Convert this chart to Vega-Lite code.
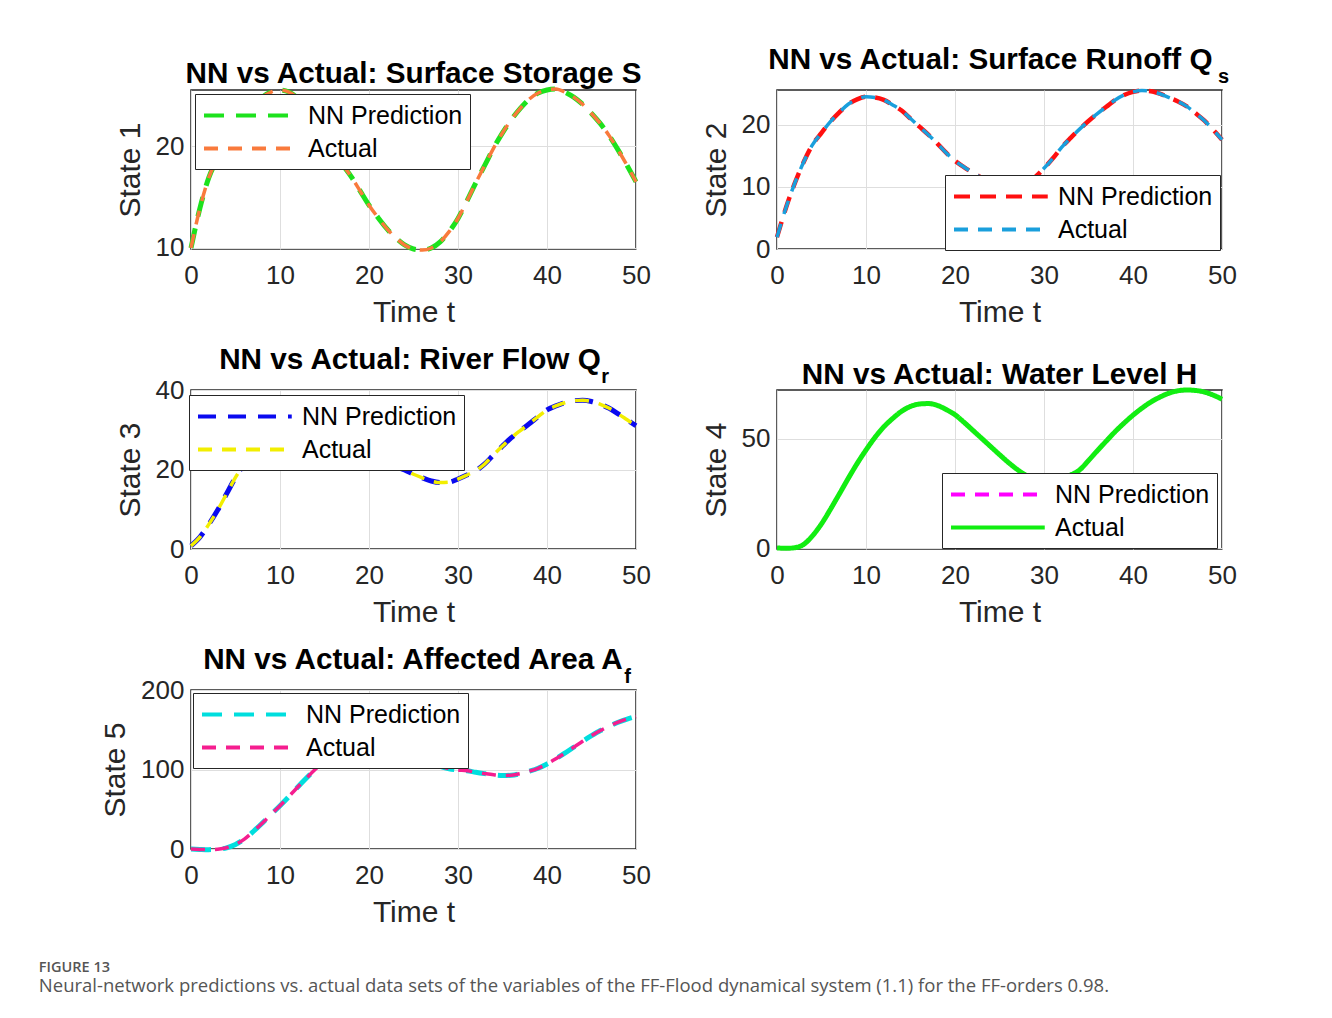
{
  "$schema": "https://vega.github.io/schema/vega-lite/v6.json",
  "padding": {"left": 38, "top": 44, "right": 10, "bottom": 10},
  "background": "white",
  "datasets": {
    "p1": [
      {"t":0,"nn":10.0,"act":10.0},{"t":1,"nn":13.9,"act":13.9},{"t":2,"nn":16.9,"act":16.9},{"t":3,"nn":18.8,"act":18.8},{"t":4,"nn":20.4,"act":20.4},{"t":5,"nn":21.8,"act":21.8},{"t":6,"nn":23.0,"act":23.0},{"t":7,"nn":24.0,"act":24.0},{"t":8,"nn":24.8,"act":24.8},{"t":9,"nn":25.3,"act":25.3},{"t":10,"nn":25.5,"act":25.5},
      {"t":11,"nn":25.3,"act":25.3},{"t":12,"nn":24.7,"act":24.7},{"t":13,"nn":23.7,"act":23.7},{"t":14,"nn":22.4,"act":22.4},{"t":15,"nn":21.0,"act":21.0},{"t":16,"nn":19.5,"act":19.5},{"t":17,"nn":18.2,"act":18.2},{"t":18,"nn":17.0,"act":17.0},{"t":19,"nn":15.6,"act":15.6},{"t":20,"nn":14.2,"act":14.2},
      {"t":21,"nn":13.0,"act":13.0},{"t":22,"nn":11.9,"act":11.9},{"t":23,"nn":11.0,"act":11.0},{"t":24,"nn":10.3,"act":10.3},{"t":25,"nn":9.9,"act":9.9},{"t":26,"nn":9.8,"act":9.8},{"t":27,"nn":10.0,"act":10.0},{"t":28,"nn":10.6,"act":10.6},{"t":29,"nn":11.6,"act":11.6},{"t":30,"nn":12.9,"act":12.9},
      {"t":31,"nn":14.6,"act":14.6},{"t":32,"nn":16.4,"act":16.4},{"t":33,"nn":18.1,"act":18.1},{"t":34,"nn":19.8,"act":19.8},{"t":35,"nn":21.3,"act":21.3},{"t":36,"nn":22.6,"act":22.6},{"t":37,"nn":23.7,"act":23.7},{"t":38,"nn":24.6,"act":24.6},{"t":39,"nn":25.2,"act":25.2},{"t":40,"nn":25.5,"act":25.5},
      {"t":41,"nn":25.6,"act":25.6},{"t":42,"nn":25.3,"act":25.3},{"t":43,"nn":24.8,"act":24.8},{"t":44,"nn":24.1,"act":24.1},{"t":45,"nn":23.2,"act":23.2},{"t":46,"nn":22.2,"act":22.2},{"t":47,"nn":21.0,"act":21.0},{"t":48,"nn":19.6,"act":19.6},{"t":49,"nn":18.1,"act":18.1},{"t":50,"nn":16.5,"act":16.5}
    ],
    "p2": [
      {"t":0,"nn":1.9,"act":1.9},{"t":1,"nn":6.6,"act":6.6},{"t":2,"nn":10.6,"act":10.6},{"t":3,"nn":14.0,"act":14.0},{"t":4,"nn":16.8,"act":16.8},{"t":5,"nn":18.7,"act":18.7},{"t":6,"nn":20.5,"act":20.5},{"t":7,"nn":22.0,"act":22.0},{"t":8,"nn":23.3,"act":23.3},{"t":9,"nn":24.1,"act":24.1},{"t":10,"nn":24.5,"act":24.5},
      {"t":11,"nn":24.4,"act":24.4},{"t":12,"nn":24.0,"act":24.0},{"t":13,"nn":23.2,"act":23.2},{"t":14,"nn":22.3,"act":22.3},{"t":15,"nn":21.0,"act":21.0},{"t":16,"nn":19.7,"act":19.7},{"t":17,"nn":18.4,"act":18.4},{"t":18,"nn":17.0,"act":17.0},{"t":19,"nn":15.5,"act":15.5},{"t":20,"nn":14.2,"act":14.2},
      {"t":21,"nn":13.2,"act":13.2},{"t":22,"nn":12.3,"act":12.3},{"t":23,"nn":11.5,"act":11.5},{"t":24,"nn":10.9,"act":10.9},{"t":25,"nn":10.5,"act":10.5},{"t":26,"nn":10.3,"act":10.3},{"t":27,"nn":10.4,"act":10.4},{"t":28,"nn":10.9,"act":10.9},{"t":29,"nn":11.6,"act":11.6},{"t":30,"nn":13.0,"act":13.0},
      {"t":31,"nn":14.6,"act":14.6},{"t":32,"nn":16.4,"act":16.4},{"t":33,"nn":17.9,"act":17.9},{"t":34,"nn":19.3,"act":19.3},{"t":35,"nn":20.6,"act":20.6},{"t":36,"nn":21.8,"act":21.8},{"t":37,"nn":22.9,"act":22.9},{"t":38,"nn":24.0,"act":24.0},{"t":39,"nn":24.8,"act":24.8},{"t":40,"nn":25.3,"act":25.3},
      {"t":41,"nn":25.5,"act":25.5},{"t":42,"nn":25.4,"act":25.4},{"t":43,"nn":25.0,"act":25.0},{"t":44,"nn":24.4,"act":24.4},{"t":45,"nn":23.8,"act":23.8},{"t":46,"nn":23.0,"act":23.0},{"t":47,"nn":21.9,"act":21.9},{"t":48,"nn":20.7,"act":20.7},{"t":49,"nn":19.2,"act":19.2},{"t":50,"nn":17.6,"act":17.6}
    ],
    "p3": [
      {"t":0,"nn":0.8,"act":0.8},{"t":1,"nn":3.0,"act":3.0},{"t":2,"nn":6.2,"act":6.2},{"t":3,"nn":9.8,"act":9.8},{"t":4,"nn":13.9,"act":13.9},{"t":5,"nn":18.0,"act":18.0},{"t":6,"nn":21.5,"act":21.5},{"t":7,"nn":24.5,"act":24.5},{"t":8,"nn":26.8,"act":26.8},{"t":9,"nn":28.5,"act":28.5},{"t":10,"nn":29.6,"act":29.6},
      {"t":11,"nn":30.2,"act":30.2},{"t":12,"nn":30.3,"act":30.3},{"t":13,"nn":30.0,"act":30.0},{"t":14,"nn":29.3,"act":29.3},{"t":15,"nn":28.4,"act":28.4},{"t":16,"nn":27.3,"act":27.3},{"t":17,"nn":26.1,"act":26.1},{"t":18,"nn":25.0,"act":25.0},{"t":19,"nn":23.9,"act":23.9},{"t":20,"nn":22.9,"act":22.9},
      {"t":21,"nn":22.0,"act":22.0},{"t":22,"nn":21.2,"act":21.2},{"t":23,"nn":20.6,"act":20.6},{"t":24,"nn":19.9,"act":19.9},{"t":25,"nn":18.8,"act":18.8},{"t":26,"nn":17.9,"act":17.9},{"t":27,"nn":17.1,"act":17.1},{"t":28,"nn":16.7,"act":16.7},{"t":29,"nn":16.8,"act":16.8},{"t":30,"nn":17.6,"act":17.6},
      {"t":31,"nn":18.6,"act":18.6},{"t":32,"nn":19.7,"act":19.7},{"t":33,"nn":21.4,"act":21.4},{"t":34,"nn":23.7,"act":23.7},{"t":35,"nn":25.9,"act":25.9},{"t":36,"nn":28.0,"act":28.0},{"t":37,"nn":29.8,"act":29.8},{"t":38,"nn":31.5,"act":31.5},{"t":39,"nn":33.3,"act":33.3},{"t":40,"nn":35.0,"act":35.0},
      {"t":41,"nn":36.0,"act":36.0},{"t":42,"nn":36.8,"act":36.8},{"t":43,"nn":37.3,"act":37.3},{"t":44,"nn":37.4,"act":37.4},{"t":45,"nn":37.1,"act":37.1},{"t":46,"nn":36.4,"act":36.4},{"t":47,"nn":35.4,"act":35.4},{"t":48,"nn":34.0,"act":34.0},{"t":49,"nn":32.5,"act":32.5},{"t":50,"nn":31.0,"act":31.0}
    ],
    "p4": [
      {"t":0,"nn":0.2,"act":0.2},{"t":1,"nn":0.0,"act":0.0},{"t":2,"nn":0.3,"act":0.3},{"t":3,"nn":1.8,"act":1.8},{"t":4,"nn":5.8,"act":5.8},{"t":5,"nn":11.2,"act":11.2},{"t":6,"nn":17.8,"act":17.8},{"t":7,"nn":24.8,"act":24.8},{"t":8,"nn":31.9,"act":31.9},{"t":9,"nn":38.7,"act":38.7},{"t":10,"nn":44.9,"act":44.9},
      {"t":11,"nn":50.6,"act":50.6},{"t":12,"nn":55.5,"act":55.5},{"t":13,"nn":59.3,"act":59.3},{"t":14,"nn":62.6,"act":62.6},{"t":15,"nn":64.8,"act":64.8},{"t":16,"nn":65.9,"act":65.9},{"t":17,"nn":66.1,"act":66.1},{"t":18,"nn":65.3,"act":65.3},{"t":19,"nn":63.4,"act":63.4},{"t":20,"nn":61.0,"act":61.0},
      {"t":21,"nn":57.6,"act":57.6},{"t":22,"nn":53.9,"act":53.9},{"t":23,"nn":50.2,"act":50.2},{"t":24,"nn":46.5,"act":46.5},{"t":25,"nn":42.8,"act":42.8},{"t":26,"nn":39.2,"act":39.2},{"t":27,"nn":36.0,"act":36.0},{"t":28,"nn":33.3,"act":33.3},{"t":29,"nn":31.5,"act":31.5},{"t":30,"nn":30.7,"act":30.7},
      {"t":31,"nn":30.8,"act":30.8},{"t":32,"nn":31.8,"act":31.8},{"t":33,"nn":33.5,"act":33.5},{"t":34,"nn":35.8,"act":35.8},{"t":35,"nn":40.1,"act":40.1},{"t":36,"nn":44.6,"act":44.6},{"t":37,"nn":49.0,"act":49.0},{"t":38,"nn":53.3,"act":53.3},{"t":39,"nn":57.2,"act":57.2},{"t":40,"nn":60.8,"act":60.8},
      {"t":41,"nn":64.0,"act":64.0},{"t":42,"nn":66.8,"act":66.8},{"t":43,"nn":69.0,"act":69.0},{"t":44,"nn":70.8,"act":70.8},{"t":45,"nn":71.9,"act":71.9},{"t":46,"nn":72.3,"act":72.3},{"t":47,"nn":72.1,"act":72.1},{"t":48,"nn":71.4,"act":71.4},{"t":49,"nn":70.0,"act":70.0},{"t":50,"nn":68.1,"act":68.1}
    ],
    "p5": [
      {"t":0,"nn":0.0,"act":0.0},{"t":1,"nn":-0.5,"act":-0.5},{"t":2,"nn":-0.8,"act":-0.8},{"t":3,"nn":-0.3,"act":-0.3},{"t":4,"nn":1.5,"act":1.5},{"t":5,"nn":5.8,"act":5.8},{"t":6,"nn":12.5,"act":12.5},{"t":7,"nn":22.0,"act":22.0},{"t":8,"nn":32.5,"act":32.5},{"t":9,"nn":43.5,"act":43.5},{"t":10,"nn":54.5,"act":54.5},
      {"t":11,"nn":66.0,"act":66.0},{"t":12,"nn":78.0,"act":78.0},{"t":13,"nn":89.5,"act":89.5},{"t":14,"nn":100.5,"act":100.5},{"t":15,"nn":111.0,"act":111.0},{"t":16,"nn":120.0,"act":120.0},{"t":17,"nn":127.0,"act":127.0},{"t":18,"nn":132.0,"act":132.0},{"t":19,"nn":135.0,"act":135.0},{"t":20,"nn":136.0,"act":136.0},
      {"t":21,"nn":135.0,"act":135.0},{"t":22,"nn":132.0,"act":132.0},{"t":23,"nn":128.0,"act":128.0},{"t":24,"nn":123.0,"act":123.0},{"t":25,"nn":118.0,"act":118.0},{"t":26,"nn":113.0,"act":113.0},{"t":27,"nn":108.0,"act":108.0},{"t":28,"nn":104.0,"act":104.0},{"t":29,"nn":101.0,"act":101.0},{"t":30,"nn":99.5,"act":99.5},
      {"t":31,"nn":98.5,"act":98.5},{"t":32,"nn":96.5,"act":96.5},{"t":33,"nn":94.8,"act":94.8},{"t":34,"nn":93.3,"act":93.3},{"t":35,"nn":92.4,"act":92.4},{"t":36,"nn":92.8,"act":92.8},{"t":37,"nn":94.8,"act":94.8},{"t":38,"nn":97.8,"act":97.8},{"t":39,"nn":101.5,"act":101.5},{"t":40,"nn":107.0,"act":107.0},
      {"t":41,"nn":113.5,"act":113.5},{"t":42,"nn":120.5,"act":120.5},{"t":43,"nn":128.0,"act":128.0},{"t":44,"nn":135.5,"act":135.5},{"t":45,"nn":142.5,"act":142.5},{"t":46,"nn":149.0,"act":149.0},{"t":47,"nn":154.5,"act":154.5},{"t":48,"nn":159.5,"act":159.5},{"t":49,"nn":163.5,"act":163.5},{"t":50,"nn":166.5,"act":166.5}
    ]
  },
  "title": {
    "text": "FIGURE 13",
    "subtitle": "Neural-network predictions vs. actual data sets of the variables of the FF-Flood dynamical system (1.1) for the FF-orders 0.98.",
    "orient": "bottom", "anchor": "start", "frame": "bounds",
    "font": "Open Sans", "fontSize": 14.5, "fontWeight": 600, "color": "#555555",
    "subtitleFont": "Open Sans", "subtitleFontSize": 18.5, "subtitleColor": "#555555", "subtitlePadding": 2,
    "offset": 33, "dx": -61
  },
  "columns": 2,
  "spacing": 141,
  "bounds": "flush",
  "resolve": {"scale": {"color": "independent", "strokeDash": "independent"}},
  "concat": [
    {
      "width": 445, "height": 159,
      "data": {"name": "p1"},
      "transform": [{"fold": ["nn", "act"], "as": ["series", "v"]}],
      "title": {"text": "NN vs Actual: Surface Storage S", "anchor": "middle", "offset": -34, "baseline": "alphabetic"},
      "encoding": {
        "x": {"field": "t", "type": "quantitative", "scale": {"domain": [0, 50], "nice": false}, "axis": {"values": [0, 10, 20, 30, 40, 50], "title": "Time t"}},
        "y": {"field": "v", "type": "quantitative", "scale": {"domain": [9.9, 25.5], "nice": false, "zero": false}, "axis": {"values": [10, 20], "title": "State 1"}},
        "color": {"field": "series", "type": "nominal", "scale": {"domain": ["nn", "act"], "range": ["#1de21d", "#f97a3c"]}, "legend": {"orient": "none", "legendX": 4, "legendY": 4, "labelExpr": "datum.label == 'nn' ? 'NN Prediction' : 'Actual'"}},
        "strokeDash": {"field": "series", "type": "nominal", "scale": {"domain": ["nn", "act"], "range": [[20, 12], [14, 10]]}, "legend": {"orient": "none", "legendX": 4, "legendY": 4, "labelExpr": "datum.label == 'nn' ? 'NN Prediction' : 'Actual'"}}
      },
      "layer": [
        {"transform": [{"filter": "datum.series == 'nn'"}], "mark": {"type": "line", "interpolate": "monotone", "clip": false, "strokeWidth": 5}},
        {"transform": [{"filter": "datum.series == 'act'"}], "mark": {"type": "line", "interpolate": "monotone", "clip": false, "strokeWidth": 3.5}}
      ]
    },
    {
      "width": 445, "height": 159,
      "data": {"name": "p2"},
      "transform": [{"fold": ["nn", "act"], "as": ["series", "v"]}],
      "title": {"text": "NN vs Actual: Surface Runoff Q\u00a0\u00a0\u200b", "subtitle": "s", "anchor": "end", "frame": "group", "dx": 7, "offset": -6, "subtitleFont": "Liberation Sans", "subtitleFontSize": 20, "subtitleFontWeight": "bold", "subtitleColor": "#000000", "subtitlePadding": -9},
      "encoding": {
        "x": {"field": "t", "type": "quantitative", "scale": {"domain": [0, 50], "nice": false}, "axis": {"values": [0, 10, 20, 30, 40, 50], "title": "Time t"}},
        "y": {"field": "v", "type": "quantitative", "scale": {"domain": [0, 25.6], "nice": false}, "axis": {"values": [0, 10, 20], "title": "State 2"}},
        "color": {"field": "series", "type": "nominal", "scale": {"domain": ["nn", "act"], "range": ["#ff1010", "#1a9fdc"]}, "legend": {"orient": "none", "legendX": 168, "legendY": 85, "labelExpr": "datum.label == 'nn' ? 'NN Prediction' : 'Actual'"}},
        "strokeDash": {"field": "series", "type": "nominal", "scale": {"domain": ["nn", "act"], "range": [[16, 10], [14, 10]]}, "legend": {"orient": "none", "legendX": 168, "legendY": 85, "labelExpr": "datum.label == 'nn' ? 'NN Prediction' : 'Actual'"}}
      },
      "layer": [
        {"transform": [{"filter": "datum.series == 'nn'"}], "mark": {"type": "line", "interpolate": "monotone", "clip": false, "strokeWidth": 4.5}},
        {"transform": [{"filter": "datum.series == 'act'"}], "mark": {"type": "line", "interpolate": "monotone", "clip": false, "strokeWidth": 3.5}}
      ]
    },
    {
      "width": 445, "height": 159,
      "data": {"name": "p3"},
      "transform": [{"fold": ["nn", "act"], "as": ["series", "v"]}],
      "title": {"text": "NN vs Actual: River Flow Q\u00a0\u200b", "subtitle": "r", "anchor": "end", "frame": "group", "dx": -27, "offset": -11, "subtitleFont": "Liberation Sans", "subtitleFontSize": 20, "subtitleFontWeight": "bold", "subtitleColor": "#000000", "subtitlePadding": -9},
      "encoding": {
        "x": {"field": "t", "type": "quantitative", "scale": {"domain": [0, 50], "nice": false}, "axis": {"values": [0, 10, 20, 30, 40, 50], "title": "Time t"}},
        "y": {"field": "v", "type": "quantitative", "scale": {"domain": [0, 40], "nice": false}, "axis": {"values": [0, 20, 40], "title": "State 3"}},
        "color": {"field": "series", "type": "nominal", "scale": {"domain": ["nn", "act"], "range": ["#0a0aef", "#f2ee00"]}, "legend": {"orient": "none", "legendX": -2, "legendY": 5, "labelExpr": "datum.label == 'nn' ? 'NN Prediction' : 'Actual'"}},
        "strokeDash": {"field": "series", "type": "nominal", "scale": {"domain": ["nn", "act"], "range": [[18, 12], [14, 10]]}, "legend": {"orient": "none", "legendX": -2, "legendY": 5, "labelExpr": "datum.label == 'nn' ? 'NN Prediction' : 'Actual'"}}
      },
      "layer": [
        {"transform": [{"filter": "datum.series == 'nn'"}], "mark": {"type": "line", "interpolate": "monotone", "clip": false, "strokeWidth": 5}},
        {"transform": [{"filter": "datum.series == 'act'"}], "mark": {"type": "line", "interpolate": "monotone", "clip": false, "strokeWidth": 3.5}}
      ]
    },
    {
      "width": 445, "height": 159,
      "data": {"name": "p4"},
      "transform": [{"fold": ["nn", "act"], "as": ["series", "v"]}],
      "title": {"text": "NN vs Actual: Water Level H", "anchor": "middle", "offset": -34, "baseline": "alphabetic"},
      "encoding": {
        "x": {"field": "t", "type": "quantitative", "scale": {"domain": [0, 50], "nice": false}, "axis": {"values": [0, 10, 20, 30, 40, 50], "title": "Time t"}},
        "y": {"field": "v", "type": "quantitative", "scale": {"domain": [-0.3, 72.3], "nice": false, "zero": false}, "axis": {"values": [0, 50], "title": "State 4"}},
        "color": {"field": "series", "type": "nominal", "scale": {"domain": ["nn", "act"], "range": ["#ff00ff", "#11ee11"]}, "legend": {"orient": "none", "legendX": 165, "legendY": 83, "labelExpr": "datum.label == 'nn' ? 'NN Prediction' : 'Actual'"}},
        "strokeDash": {"field": "series", "type": "nominal", "scale": {"domain": ["nn", "act"], "range": [[14, 10], [1, 0]]}, "legend": {"orient": "none", "legendX": 165, "legendY": 83, "labelExpr": "datum.label == 'nn' ? 'NN Prediction' : 'Actual'"}}
      },
      "layer": [
        {"transform": [{"filter": "datum.series == 'nn'"}], "mark": {"type": "line", "interpolate": "monotone", "clip": false, "strokeWidth": 4}},
        {"transform": [{"filter": "datum.series == 'act'"}], "mark": {"type": "line", "interpolate": "monotone", "clip": false, "strokeWidth": 5}}
      ]
    },
    {
      "width": 445, "height": 159,
      "data": {"name": "p5"},
      "transform": [{"fold": ["nn", "act"], "as": ["series", "v"]}],
      "title": {"text": "NN vs Actual: Affected Area A\u00a0\u200b", "subtitle": "f", "anchor": "end", "frame": "group", "dx": -5, "offset": -11, "subtitleFont": "Liberation Sans", "subtitleFontSize": 20, "subtitleFontWeight": "bold", "subtitleColor": "#000000", "subtitlePadding": -9},
      "encoding": {
        "x": {"field": "t", "type": "quantitative", "scale": {"domain": [0, 50], "nice": false}, "axis": {"values": [0, 10, 20, 30, 40, 50], "title": "Time t"}},
        "y": {"field": "v", "type": "quantitative", "scale": {"domain": [0, 200], "nice": false}, "axis": {"values": [0, 100, 200], "title": "State 5"}},
        "color": {"field": "series", "type": "nominal", "scale": {"domain": ["nn", "act"], "range": ["#00dede", "#f51e8f"]}, "legend": {"orient": "none", "legendX": 2, "legendY": 3, "labelExpr": "datum.label == 'nn' ? 'NN Prediction' : 'Actual'"}},
        "strokeDash": {"field": "series", "type": "nominal", "scale": {"domain": ["nn", "act"], "range": [[20, 12], [14, 10]]}, "legend": {"orient": "none", "legendX": 2, "legendY": 3, "labelExpr": "datum.label == 'nn' ? 'NN Prediction' : 'Actual'"}}
      },
      "layer": [
        {"transform": [{"filter": "datum.series == 'nn'"}], "mark": {"type": "line", "interpolate": "monotone", "clip": false, "strokeWidth": 5}},
        {"transform": [{"filter": "datum.series == 'act'"}], "mark": {"type": "line", "interpolate": "monotone", "clip": false, "strokeWidth": 3.5}}
      ]
    }
  ],
  "config": {
    "font": "Liberation Sans",
    "view": {"stroke": "#262626", "strokeWidth": 1.5},
    "axis": {
      "domain": false, "ticks": false, "grid": true, "gridColor": "#dedede", "gridWidth": 1,
      "labelFont": "Liberation Sans", "labelFontSize": 26, "labelColor": "#262626", "labelFlush": false, "labelOverlap": false,
      "titleFont": "Liberation Sans", "titleFontSize": 30, "titleFontWeight": "normal", "titleColor": "#262626"
    },
    "axisX": {"labelPadding": 13, "titlePadding": 9},
    "axisY": {"labelPadding": 7, "titlePadding": 10},
    "title": {"font": "Liberation Sans", "fontSize": 29.7, "fontWeight": "bold", "color": "#000000"},
    "legend": {
      "title": null, "fillColor": "white", "strokeColor": "#262626", "padding": 7,
      "symbolType": "M-1,0H6.5", "symbolSize": 625, "symbolStrokeWidth": 4,
      "labelFont": "Liberation Sans", "labelFontSize": 25, "labelColor": "#000000", "labelOffset": 77, "labelLimit": 400,
      "rowPadding": 5
    }
  }
}
